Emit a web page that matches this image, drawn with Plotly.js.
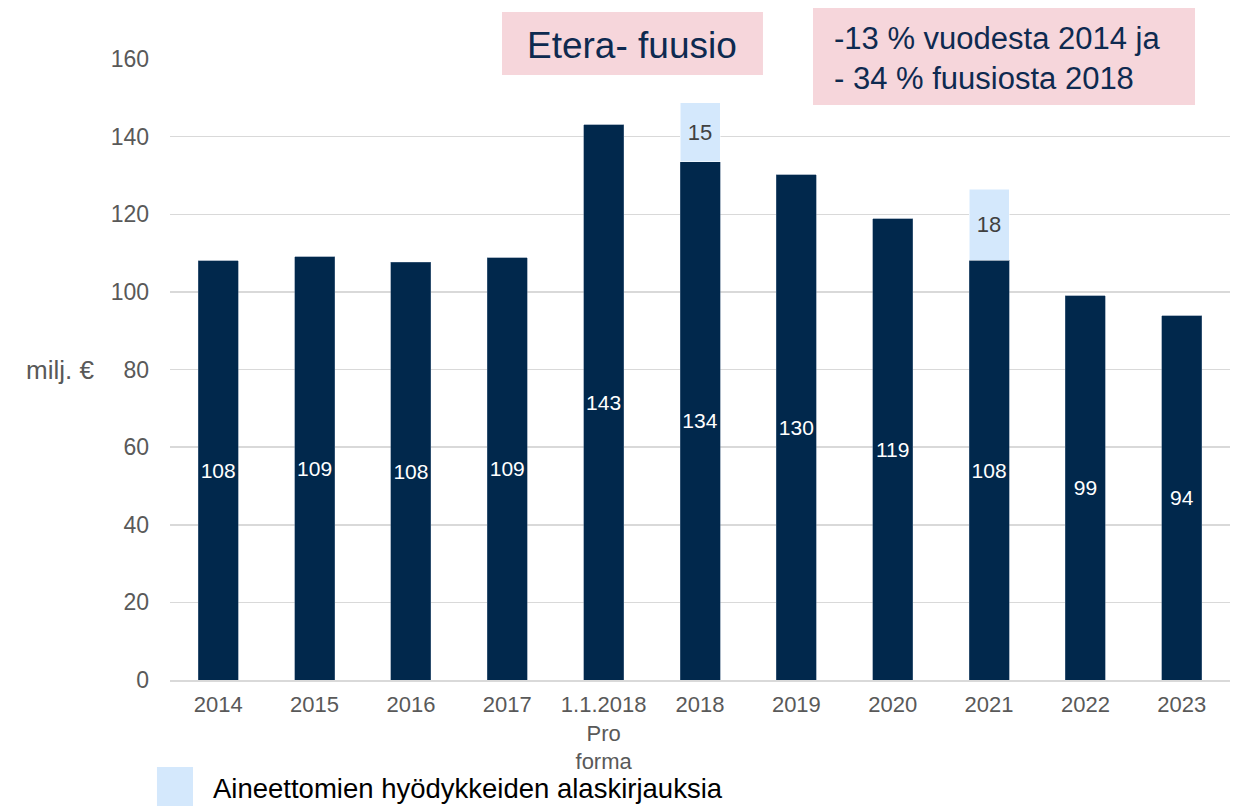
<!DOCTYPE html>
<html>
<head>
<meta charset="utf-8">
<script src="https://cdn.plot.ly/plotly-3.0.1.min.js"></script>
<style>html,body{margin:0;padding:0;background:#fff;}#chart{width:1240px;height:806px;}</style>
</head>
<body>
<div id="chart"></div>
<script>
const categories = ['2014','2015','2016','2017','1.1.2018<br>Pro<br>forma','2018','2019','2020','2021','2022','2023'];
const baseValues = [108.0, 109.0, 107.6, 108.8, 143.0, 133.5, 130.2, 118.8, 108.2, 99.0, 93.8];
const writedowns = [null, null, null, null, null, 15.2, null, null, 18.3, null, null];
const legendLabel = 'Aineettomien hyödykkeiden alaskirjauksia';
const yTitle = 'milj. €';
const note1 = 'Etera- fuusio';
const note2 = '-13 % vuodesta 2014 ja<br>- 34 % fuusiosta 2018';

const FONT = 'Arial, "Liberation Sans", sans-serif';
const DARK = '#01284c';
const LIGHT = '#d4e8fc';
const PINK = '#f6d6db';

const traces = [
  {
    type: 'bar', x: categories, y: baseValues, name: 'Base',
    marker: {color: DARK, line: {color: '#5a7390', width: 0.5}},
    texttemplate: '%{y:.0f}', textposition: 'inside', insidetextanchor: 'middle',
    textangle: 0, constraintext: 'none', textfont: {family: FONT, size: 21, color: '#ffffff'},
    hoverinfo: 'x+y', showlegend: false
  },
  {
    type: 'bar', x: categories, y: writedowns, name: legendLabel,
    marker: {color: LIGHT, line: {color: '#ffffff', width: 0.5}},
    texttemplate: '%{y:.0f}', textposition: 'inside', insidetextanchor: 'middle',
    textangle: 0, constraintext: 'none', textfont: {family: FONT, size: 22, color: '#404040'},
    hoverinfo: 'x+y', showlegend: false
  }
];

const layout = {
  width: 1240, height: 806,
  margin: {l: 170, r: 10, t: 59, b: 126},
  paper_bgcolor: '#ffffff', plot_bgcolor: '#ffffff',
  barmode: 'stack', bargap: 0.585,
  font: {family: FONT, color: '#595959', size: 22},
  xaxis: {
    type: 'category', showline: true, linecolor: '#d9d9d9', linewidth: 1.5,
    showgrid: false, ticks: '', tickfont: {family: FONT, size: 22, color: '#595959'},
    ticklabelstandoff: 4, fixedrange: true
  },
  yaxis: {
    range: [0, 160], dtick: 20, showline: false, zeroline: false,
    gridcolor: '#d9d9d9', gridwidth: 1.5, ticks: '',
    tickfont: {family: FONT, size: 23, color: '#595959'},
    ticklabelstandoff: 20, fixedrange: true
  },
  shapes: [
    {type: 'rect', xref: 'paper', yref: 'paper', x0: 0.3132, x1: 0.5594, y0: 0.9742, y1: 1.0757,
     fillcolor: PINK, line: {width: 0}, layer: 'below'},
    {type: 'rect', xref: 'paper', yref: 'paper', x0: 0.6066, x1: 0.967, y0: 0.926, y1: 1.0821,
     fillcolor: PINK, line: {width: 0}, layer: 'below'},
    {type: 'rect', xref: 'paper', yref: 'paper', x0: -0.0123, x1: 0.0217, y0: -0.2029, y1: -0.1401,
     fillcolor: LIGHT, line: {width: 0}}
  ],
  annotations: [
    {xref: 'paper', yref: 'paper', x: 0.4358, y: 1.0225, xanchor: 'center', yanchor: 'middle',
     text: note1, showarrow: false, font: {family: FONT, size: 37, color: '#0e2a50'}},
    {xref: 'paper', yref: 'paper', x: 0.6245, y: 1.0016, xanchor: 'left', yanchor: 'middle', align: 'left',
     text: note2, showarrow: false, font: {family: FONT, size: 31, color: '#0e2a50'}},
    {xref: 'paper', yref: 'paper', x: -0.1038, y: 0.4992, xanchor: 'center', yanchor: 'middle',
     text: yTitle, showarrow: false, font: {family: FONT, size: 26, color: '#595959'}},
    {xref: 'paper', yref: 'paper', x: 0.0387, y: -0.1755, xanchor: 'left', yanchor: 'middle',
     text: legendLabel, showarrow: false, font: {family: FONT, size: 27.5, color: '#000000'}}
  ],
  showlegend: false
};

Plotly.newPlot('chart', traces, layout, {displayModeBar: false, staticPlot: true});
</script>
</body>
</html>
